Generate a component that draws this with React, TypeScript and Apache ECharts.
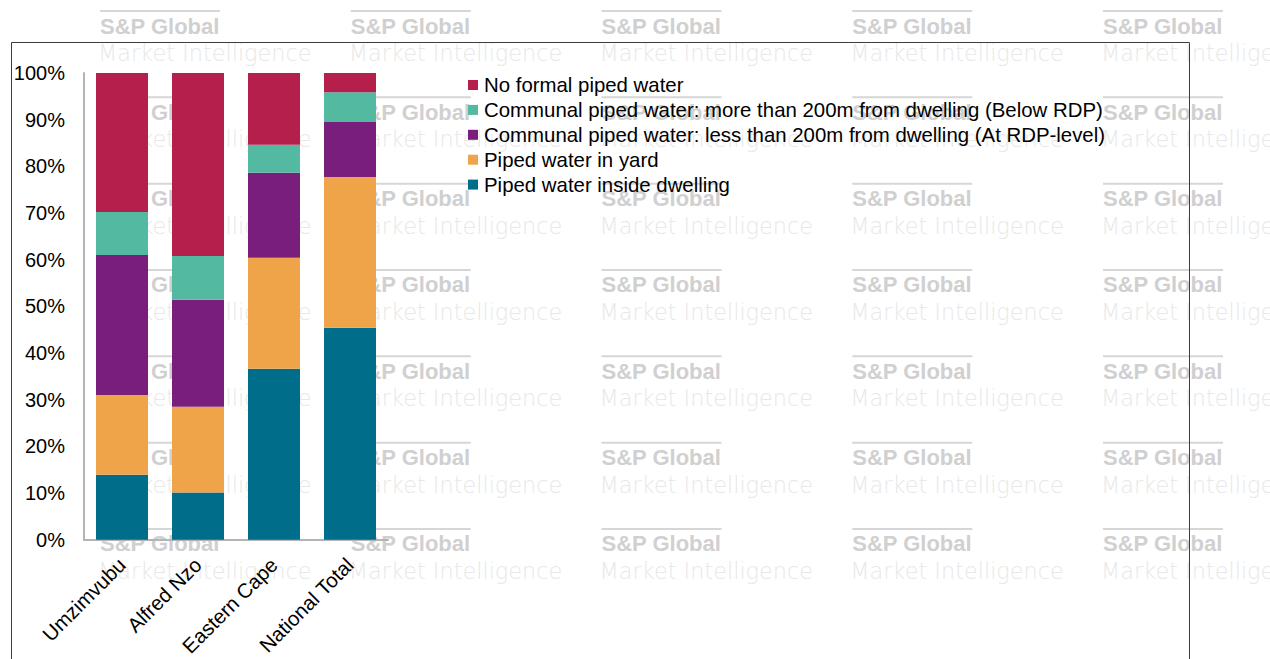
import React, { useEffect, useRef } from "react";
import * as echarts from "echarts";

// Share of households by main water source, per area (percent)
const categories = ["Umzimvubu", "Alfred Nzo", "Eastern Cape", "National Total"];
const insideDwelling = [13.9, 10.1, 36.6, 45.4];
const inYard = [17.1, 18.4, 23.8, 32.3];
const communalNear = [30.0, 22.9, 18.2, 11.8];
const communalFar = [9.2, 9.4, 6.0, 6.4];
const noFormal = [29.8, 39.2, 15.4, 4.1];

const yTicks = [0, 10, 20, 30, 40, 50, 60, 70, 80, 90, 100];

const seriesDefs = [
  { name: "Piped water inside dwelling", data: insideDwelling, color: "#006E8A" },
  { name: "Piped water in yard", data: inYard, color: "#F0A44A" },
  { name: "Communal piped water: less than 200m from dwelling (At RDP-level)", data: communalNear, color: "#7A1E7E" },
  { name: "Communal piped water: more than 200m from dwelling (Below RDP)", data: communalFar, color: "#53B9A0" },
  { name: "No formal piped water", data: noFormal, color: "#B41F4C" },
];

const FONT = "'Liberation Sans', Arial, sans-serif";

// Repeated brand watermark behind the plot
function watermark() {
  const els: any[] = [];
  for (let c = 0; c < 5; c++) {
    for (let r = 0; r < 7; r++) {
      const x0 = 100 + c * 250.75;
      const yc = 26 + r * 86.33;
      els.push({
        type: "line",
        z: -10,
        silent: true,
        shape: { x1: x0, y1: yc - 15, x2: x0 + 120, y2: yc - 15 },
        style: { stroke: "#d6d6d6", lineWidth: 2 },
      });
      els.push({
        type: "text",
        z: -10,
        silent: true,
        x: x0,
        y: yc,
        style: {
          text: "S&P Global",
          fontFamily: FONT,
          fontWeight: "bold",
          fontSize: 22,
          fill: "#d0d0d0",
          verticalAlign: "middle",
        },
      });
      els.push({
        type: "text",
        z: -10,
        silent: true,
        x: x0 - 2,
        y: yc + 27,
        style: {
          text: "Market Intelligence",
          fontFamily: "'DejaVu Sans', sans-serif",
          fontWeight: 200,
          fontSize: 22.4,
          fill: "#e8e8e8",
          verticalAlign: "middle",
        },
      });
    }
  }
  return els;
}

export default function App() {
  const ref = useRef<HTMLDivElement>(null);

  useEffect(() => {
    if (!ref.current) return;
    const chart = echarts.init(ref.current, null, { renderer: "svg" });
    chart.setOption({
      animation: false,
      backgroundColor: "#ffffff",
      textStyle: { fontFamily: FONT },
      graphic: [
        ...watermark(),
        {
          type: "rect",
          z: 5,
          silent: true,
          shape: { x: 11.5, y: 42.5, width: 1178, height: 700 },
          style: { fill: "none", stroke: "#3c3c3c", lineWidth: 1 },
        },
      ],
      grid: { left: 84, right: 882, top: 73, bottom: 119, containLabel: false },
      legend: {
        orient: "vertical",
        left: 468,
        top: 75,
        padding: 0,
        itemWidth: 10,
        itemHeight: 10,
        itemGap: 4.9,
        icon: "rect",
        data: [
          "No formal piped water",
          "Communal piped water: more than 200m from dwelling (Below RDP)",
          "Communal piped water: less than 200m from dwelling (At RDP-level)",
          "Piped water in yard",
          "Piped water inside dwelling",
        ],
        textStyle: { fontSize: 20.4, color: "#000", fontFamily: FONT, padding: [0, 0, 0, 1] },
      },
      xAxis: {
        type: "category",
        data: categories,
        axisLine: { lineStyle: { color: "#b4b4b4", width: 2 } },
        axisTick: { show: false },
        axisLabel: {
          rotate: 45,
          fontSize: 20.4,
          color: "#000",
          margin: 22,
          interval: 0,
        },
      },
      yAxis: {
        type: "value",
        min: yTicks[0],
        max: yTicks[yTicks.length - 1],
        interval: 10,
        axisLine: { show: true, lineStyle: { color: "#b4b4b4", width: 2 } },
        axisTick: { show: false },
        splitLine: { show: false },
        axisLabel: {
          fontSize: 20,
          color: "#000",
          margin: 19,
          formatter: (v: number) => `${v}%`,
        },
      },
      series: seriesDefs.map((s) => ({
        name: s.name,
        type: "bar",
        stack: "total",
        data: s.data,
        barWidth: 52,
        itemStyle: { color: s.color },
      })),
    });
    return () => chart.dispose();
  }, []);

  return (
    <div
      ref={ref}
      style={{ position: "fixed", left: 0, top: 0, width: 1270, height: 659 }}
    />
  );
}
